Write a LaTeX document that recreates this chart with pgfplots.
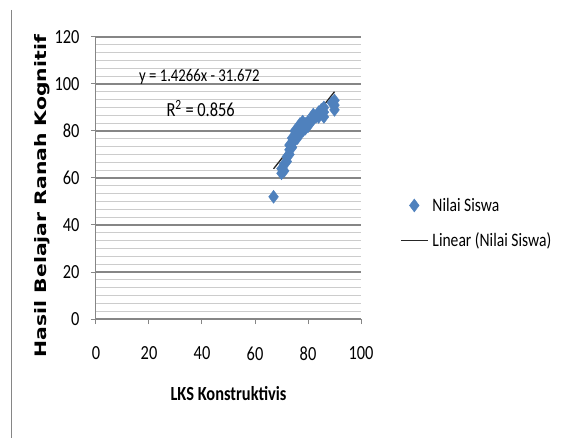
\documentclass[border=0pt]{standalone}
\usepackage{pgfplots}
\pgfplotsset{compat=1.18}
\usepackage{fontspec}
\setmainfont{Carlito}[FakeStretch=0.82]
\newfontfamily\labelfont{DejaVu Sans}
\definecolor{siswa}{HTML}{4F81BD}
\definecolor{axisgray}{HTML}{868686}
\begin{document}
\begin{tikzpicture}
\useasboundingbox (-96bp,-119bp) rectangle (473bp,319bp);
\draw[axisgray, line width=1bp] (-84bp,309bp) -- (-84bp,-119bp);
\begin{axis}[
    scale only axis,
    width=265bp, height=282bp,
    xmin=0, xmax=100, ymin=0, ymax=120,
    xtick={0,20,...,100}, ytick={0,20,...,120},
    minor y tick num=5,
    ymajorgrids, yminorgrids,
    major grid style={axisgray, line width=1.2bp},
    minor grid style={gray!40, line width=1.2bp},
    axis x line=bottom, axis y line=left,
    axis line style={-, axisgray, line width=1bp},
    tick style={axisgray, line width=1bp},
    tick align=outside,
    major tick length=5bp, minor tick length=0pt,
    ticklabel style={font=\fontsize{20bp}{22bp}\selectfont},
    /pgf/number format/assume math mode=true,
    xticklabel style={yshift=-19bp},
    yticklabel style={xshift=-8bp},
    xlabel={\fontsize{20bp}{24bp}\selectfont\bfseries LKS Konstruktivis},
    xlabel style={at={(axis description cs:0.5,-0.266)}, anchor=center},
    ylabel={\resizebox{322bp}{12bp}{\labelfont\bfseries Hasil Belajar Ranah Kognitif}},
    ylabel style={at={(axis description cs:-0.204,0.436)}, anchor=center},
    legend style={draw=none, fill=none, at={(1.147,0.34)}, anchor=west,
        font=\fontsize{19bp}{22bp}\selectfont, row sep=16bp, inner sep=0pt,
        nodes={inner xsep=4bp}},
    legend cell align=left,
]
\addplot[only marks, mark=diamond*, mark size=6.5bp, color=siswa,
    legend image code/.code={\draw[mark repeat=2,mark phase=2] plot coordinates {(0bp,0bp)(13.5bp,0bp)(27bp,0bp)};}]
coordinates {
(67,52) (70,62) (70,64) (71,63) (71,66) (72,67) (72,69) (73,70) (73,72) (73,74)
(74,73) (74,75) (74,77) (75,76) (75,78) (75,80) (76,77) (76,79) (76,81) (77,79)
(77,81) (77,83) (78,80) (78,82) (78,84) (79,81) (79,83) (80,82) (80,84) (81,84)
(82,85) (82,87) (83,86) (84,86) (84,88) (85,89) (86,86) (86,88) (86,90)
(89,92) (90,89) (90,91) (90,93)
};
\addlegendentry{Nilai Siswa}
\addplot[black!85, line width=1.3bp, no markers,
    legend image code/.code={\draw (0bp,0bp) -- (27bp,0bp);}]
coordinates {(67,63.91) (90,96.72)};
\addlegendentry{Linear (Nilai Siswa)}
\node[font=\fontsize{18bp}{20bp}\selectfont] at (axis cs:39,103) {y = 1.4266x - 31.672};
\node[font=\fontsize{20bp}{20bp}\selectfont] at (axis cs:39.5,89.5) {R\textsuperscript{2} = 0.856};
\end{axis}
\end{tikzpicture}
\end{document}
